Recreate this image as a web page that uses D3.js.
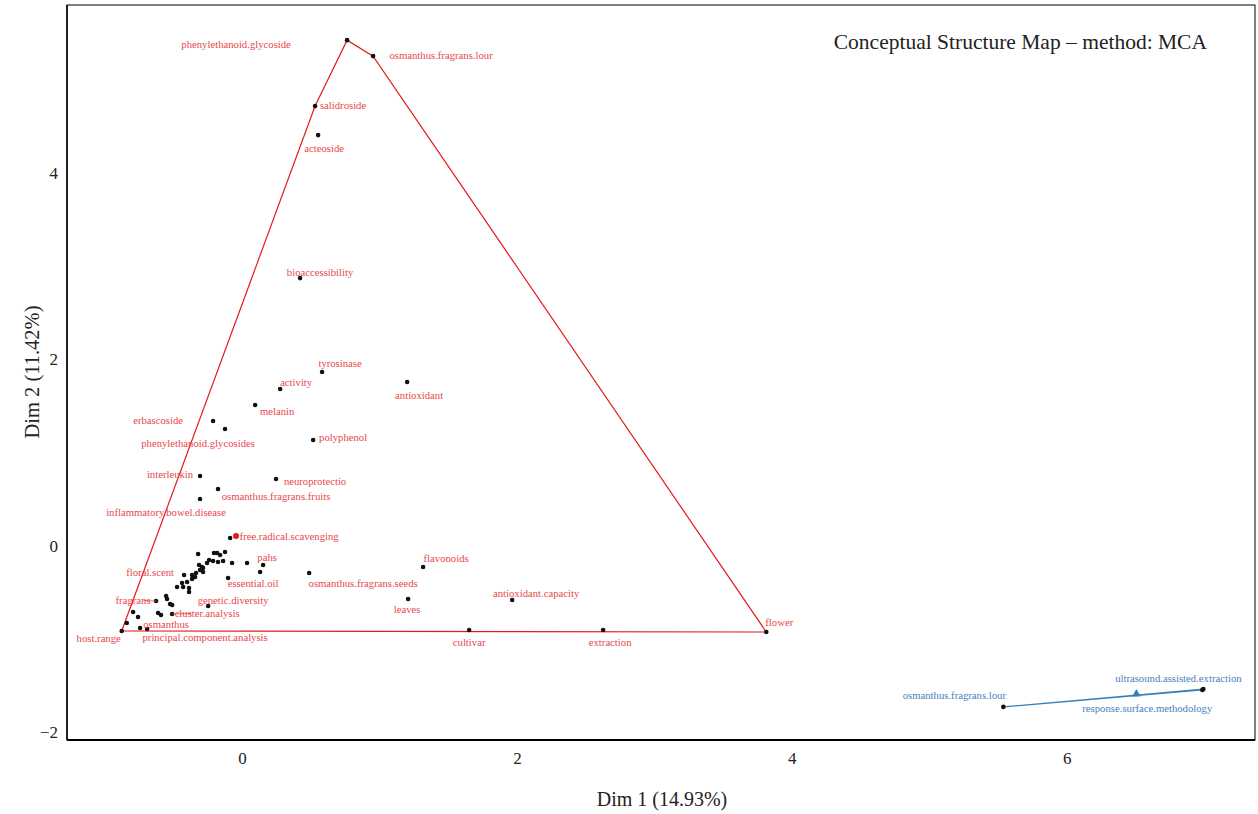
<!DOCTYPE html>
<html>
<head>
<meta charset="utf-8">
<script src="https://cdn.jsdelivr.net/npm/d3@7"></script>
<style>
  body { margin: 0; background: #fff; }
  text { font-family: "Liberation Serif", "DejaVu Serif", serif; }
</style>
</head>
<body>
<div class="map"></div>
<script>
// words of cluster 1 (red)
var redWords = ["phenylethanoid.glycoside","osmanthus.fragrans.lour","salidroside","acteoside",
  "bioaccessibility","tyrosinase","activity","antioxidant","melanin","erbascoside",
  "phenylethanoid.glycosides","polyphenol","interleukin","neuroprotectio","osmanthus.fragrans.fruits",
  "inflammatory.bowel.disease","free.radical.scavenging","pahs","essential.oil","osmanthus.fragrans.seeds",
  "flavonoids","leaves","antioxidant.capacity","cultivar","extraction","flower","host.range",
  "genetic.diversity","cluster.analysis","fragrans","floral.scent","osmanthus","principal.component.analysis"];
var redDim1 = [0.764,0.953,0.531,0.553,0.422,0.582,0.277,1.201,0.095,-0.211,-0.124,0.517,-0.306,0.247,-0.175,
  -0.306,-0.087,0.153,-0.102,0.488,1.317,1.208,1.965,1.652,2.627,3.814,-0.876,-0.247,-0.509,-0.626,-0.422,-0.691,-0.742];
var redDim2 = [5.423,5.252,4.716,4.405,2.872,1.865,1.683,1.758,1.511,1.340,1.254,1.136,0.750,0.718,0.611,
  0.504,0.086,-0.204,-0.343,-0.289,-0.225,-0.568,-0.579,-0.900,-0.900,-0.922,-0.911,-0.643,-0.729,-0.590,-0.311,-0.890,-0.879];

// red points whose labels were dropped (overlaps)
var hiddenDim1 = [-0.839,-0.793,-0.757,-0.611,-0.590,-0.553,-0.546,-0.524,-0.509,-0.473,-0.437,-0.429,-0.386,-0.386,
  -0.400,-0.364,-0.364,-0.342,-0.335,-0.313,-0.306,-0.291,-0.284,-0.284,-0.255,-0.240,-0.320,-0.204,-0.182,-0.160,
  -0.124,-0.211,-0.175,-0.138,-0.073,0.036,0.131];
var hiddenDim2 = [-0.825,-0.707,-0.761,-0.718,-0.740,-0.536,-0.568,-0.622,-0.632,-0.439,-0.397,-0.439,-0.450,-0.493,
  -0.386,-0.354,-0.311,-0.332,-0.289,-0.204,-0.257,-0.225,-0.236,-0.279,-0.182,-0.150,-0.086,-0.075,-0.075,-0.096,
  -0.064,-0.161,-0.171,-0.161,-0.182,-0.182,-0.279];

// cluster 2 (blue)
var blueWords = ["osmanthus.fragrans.lour","ultrasound.assisted.extraction","response.surface.methodology"];
var blueDim1 = [5.539,6.987,6.994];
var blueDim2 = [-1.725,-1.543,-1.533];

// cluster centroids
var centroidDim1 = [-0.044, 6.507];
var centroidDim2 = [0.107, -1.586];

var xTicks = [0, 2, 4, 6];
var yTicks = [-2, 0, 2, 4];

// label placement (pixel offsets of label centre from its point, like ggrepel output)
var labelNudge = {
  "phenylethanoid.glycoside": [-111, 4], "osmanthus.fragrans.lour": [68, -1], "salidroside": [28, -1],
  "acteoside": [6, 13], "bioaccessibility": [20, -6], "tyrosinase": [18, -9], "activity": [16, -7],
  "antioxidant": [12, 13], "melanin": [22, 6], "erbascoside": [-55, -1], "phenylethanoid.glycosides": [-27, 14],
  "polyphenol": [30, -3], "interleukin": [-30, -2], "neuroprotectio": [39, 2], "osmanthus.fragrans.fruits": [58, 7],
  "inflammatory.bowel.disease": [-34, 13], "free.radical.scavenging": [59, -2], "pahs": [4, -8],
  "essential.oil": [25, 5], "osmanthus.fragrans.seeds": [54, 10], "flavonoids": [23, -9], "leaves": [-1, 10],
  "antioxidant.capacity": [24, -7], "cultivar": [0, 12], "extraction": [7, 12], "flower": [13, -10],
  "host.range": [-23, 7], "genetic.diversity": [25, -6], "cluster.analysis": [35, -1, true],
  "fragrans": [-23, -1, true], "floral.scent": [-34, -3], "osmanthus": [19, -5],
  "principal.component.analysis": [65, 9]
};
var blueNudge = {
  "osmanthus.fragrans.lour": [-49, -12], "ultrasound.assisted.extraction": [-24, -12],
  "response.surface.methodology": [-56, 19]
};

var red = "#E41A1C", blue = "#377EB8";
var redText = "#E8474A", blueText = "#4682BE";

var svgWidth = 1258, svgHeight = 814;
var margin = {top: 5, right: 3, bottom: 74, left: 67};
var width = svgWidth - margin.left - margin.right;
var height = svgHeight - margin.top - margin.bottom;

var svg = d3.select(".map").append("svg")
  .attr("width", svgWidth)
  .attr("height", svgHeight);

var chartGroup = svg.append("g")
  .attr("transform", `translate(${margin.left}, ${margin.top})`);

var x = d3.scaleLinear().domain([-1.274, 7.37]).range([0, width]);
var y = d3.scaleLinear().domain([-2.08, 5.80]).range([height, 0]);

var redPts = redWords.map((w, i) => ({word: w, x: redDim1[i], y: redDim2[i]}));
var hiddenPts = hiddenDim1.map((v, i) => ({x: v, y: hiddenDim2[i]}));
var bluePts = blueWords.map((w, i) => ({word: w, x: blueDim1[i], y: blueDim2[i]}));

// convex hulls
function hullPath(pts) {
  var hull = d3.polygonHull(pts.map(d => [x(d.x), y(d.y)]));
  return "M" + hull.join("L") + "Z";
}
chartGroup.append("path")
  .attr("d", hullPath(redPts.concat(hiddenPts)))
  .attr("fill", "none").attr("stroke", red).attr("stroke-width", 1.2);
chartGroup.append("path")
  .attr("d", hullPath(bluePts))
  .attr("fill", "none").attr("stroke", blue).attr("stroke-width", 1.2);

// points
chartGroup.selectAll(".dot")
  .data(redPts.concat(hiddenPts, bluePts))
  .enter().append("circle")
  .attr("cx", d => x(d.x))
  .attr("cy", d => y(d.y))
  .attr("r", 2.3)
  .attr("fill", "#111");

// centroids
chartGroup.append("circle")
  .attr("cx", x(centroidDim1[0]))
  .attr("cy", y(centroidDim2[0]))
  .attr("r", 3)
  .attr("fill", red);
chartGroup.append("path")
  .attr("d", d3.symbol().type(d3.symbolTriangle).size(32)())
  .attr("transform", `translate(${x(centroidDim1[1])},${y(centroidDim2[1])})`)
  .attr("fill", blue);

// labels
function addLabels(pts, nudge, color) {
  pts.forEach(function(d) {
    var n = nudge[d.word];
    var px = x(d.x), py = y(d.y);
    if (n[2]) {
      chartGroup.append("line")
        .attr("x1", px).attr("y1", py)
        .attr("x2", px + n[0] * 0.55).attr("y2", py + n[1] * 0.55)
        .attr("stroke", color).attr("stroke-width", 0.8);
    }
    chartGroup.append("text")
      .attr("x", px + n[0])
      .attr("y", py + n[1])
      .attr("dy", "0.35em")
      .attr("text-anchor", "middle")
      .attr("font-size", "10.7px")
      .attr("fill", color)
      .text(d.word);
  });
}
addLabels(redPts, labelNudge, redText);
addLabels(bluePts, blueNudge, blueText);

// panel border and axes
chartGroup.append("rect")
  .attr("width", width).attr("height", height)
  .attr("fill", "none").attr("stroke", "#000").attr("stroke-width", 1);
chartGroup.append("line")
  .attr("x1", 0).attr("x2", width).attr("y1", height).attr("y2", height)
  .attr("stroke", "#000").attr("stroke-width", 1.8);
chartGroup.append("line")
  .attr("x1", 0).attr("x2", 0).attr("y1", 0).attr("y2", height)
  .attr("stroke", "#000").attr("stroke-width", 1.5);

var fmt = d => d < 0 ? "\u2212" + Math.abs(d) : d;
var xAxis = d3.axisBottom(x).tickValues(xTicks).tickSize(0).tickPadding(12).tickFormat(fmt);
var yAxis = d3.axisLeft(y).tickValues(yTicks).tickSize(0).tickPadding(9).tickFormat(fmt);

var gx = chartGroup.append("g").attr("transform", `translate(0,${height})`).call(xAxis);
var gy = chartGroup.append("g").call(yAxis);
[gx, gy].forEach(function(g) {
  g.select(".domain").remove();
  g.selectAll("text")
    .attr("font-family", "Liberation Serif, serif")
    .attr("font-size", "17px")
    .attr("fill", "#222");
});

// axis titles
svg.append("text")
  .attr("x", margin.left + width / 2 + 1)
  .attr("y", 806)
  .attr("text-anchor", "middle")
  .attr("font-size", "20px")
  .attr("fill", "#222")
  .text("Dim 1 (14.93%)");

svg.append("text")
  .attr("transform", "rotate(-90)")
  .attr("x", -372)
  .attr("y", 39)
  .attr("text-anchor", "middle")
  .attr("font-size", "20.5px")
  .attr("fill", "#222")
  .text("Dim 2 (11.42%)");

// title
svg.append("text")
  .attr("x", 1207)
  .attr("y", 49)
  .attr("text-anchor", "end")
  .attr("font-size", "21.5px")
  .attr("fill", "#222")
  .text("Conceptual Structure Map \u2013 method: MCA");
</script>
</body>
</html>
